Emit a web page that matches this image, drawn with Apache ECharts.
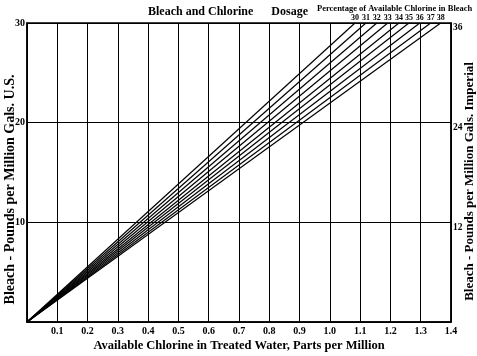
<!DOCTYPE html>
<html><head><meta charset="utf-8">
<script src="https://cdn.jsdelivr.net/npm/echarts@6/dist/echarts.min.js"></script>
<style>html,body{margin:0;padding:0;background:#fff}#c{width:477px;height:356px}</style>
</head><body><div id="c"></div>
<script>
// Percentage of available chlorine in bleach (one line per value)
const percentages = [30, 31, 32, 33, 34, 35, 36, 37, 38];
// Available chlorine (ppm) where each line reaches 30 lbs per million gals U.S.
const endPpm = [1.083, 1.119, 1.155, 1.191, 1.228, 1.261, 1.297, 1.333, 1.366];
const endLbs = 30;
const startPoint = [0, 0];

const FONT = 'Liberation Serif';
const chart = echarts.init(document.getElementById('c'));

const series = percentages.map((p, i) => ({
  type: 'line',
  name: String(p),
  showSymbol: true,
  symbol: 'circle',
  symbolSize: 0,
  silent: true,
  animation: false,
  lineStyle: { color: '#000', width: 1.2 },
  itemStyle: { color: '#000' },
  data: [
    { value: startPoint },
    { value: [endPpm[i], endLbs],
      label: { show: true, position: 'top', distance: 1, formatter: String(p),
               fontFamily: FONT, fontWeight: 'bold', fontSize: 8, color: '#000' } }
  ]
}));

chart.setOption({
  backgroundColor: '#fff',
  animation: false,
  title: [
    { text: 'Bleach and Chlorine      Dosage', left: 143, top: 1,
      textStyle: { fontFamily: FONT, fontWeight: 'bold', fontSize: 12, color: '#000' } },
    { text: 'Percentage of Available Chlorine in Bleach', left: 312, top: -1,
      textStyle: { fontFamily: FONT, fontWeight: 'bold', fontSize: 8.5, color: '#000' } }
  ],
  grid: { left: 27, right: 26, top: 23, bottom: 34, outerBoundsMode: 'none', containLabel: false,
          show: true, borderColor: '#000', borderWidth: 1.5 },
  xAxis: {
    type: 'value', min: 0, max: 1.4, interval: 0.1,
    name: 'Available Chlorine in Treated Water, Parts per Million',
    nameLocation: 'middle', nameGap: 17, nameMoveOverlap: false,
    nameTextStyle: { fontFamily: FONT, fontWeight: 'bold', fontSize: 12.5, color: '#000' },
    axisLine: { show: true, lineStyle: { color: '#000', width: 1.5 } },
    axisTick: { show: false },
    axisLabel: { showMinLabel: false, margin: 4, fontFamily: FONT, fontWeight: 'bold', fontSize: 10, color: '#000',
                 formatter: v => v.toFixed(1) },
    splitLine: { show: true, lineStyle: { color: '#000', width: 1 } }
  },
  yAxis: [
    { type: 'value', min: 0, max: 30, interval: 10, position: 'left',
      name: 'Bleach - Pounds per Million Gals. U.S.',
      nameLocation: 'middle', nameGap: 10, nameMoveOverlap: false,
      nameTextStyle: { fontFamily: FONT, fontWeight: 'bold', fontSize: 14, color: '#000', padding: [0, 34, 0, 0] },
      axisLine: { show: true, lineStyle: { color: '#000', width: 1.5 } },
      axisTick: { show: false },
      axisLabel: { showMinLabel: false, margin: 2, verticalAlign: 'middle', padding: [0, 0, 4, 0], fontFamily: FONT, fontWeight: 'bold', fontSize: 10, color: '#000' },
      splitLine: { show: true, lineStyle: { color: '#000', width: 1 } }
    },
    { type: 'value', min: 0, max: 36, interval: 12, position: 'right',
      name: 'Bleach - Pounds per Million Gals. Imperial',
      nameLocation: 'middle', nameGap: 12, nameRotate: 90, nameMoveOverlap: false,
      nameTextStyle: { fontFamily: FONT, fontWeight: 'bold', fontSize: 13, color: '#000', padding: [0, 18, 0, 0] },
      axisLine: { show: true, lineStyle: { color: '#000', width: 1.5 } },
      axisTick: { show: false },
      axisLabel: { showMinLabel: false, margin: 2, verticalAlign: 'top', fontFamily: FONT, fontWeight: 'bold', fontSize: 9.5, color: '#000' },
      splitLine: { show: false }
    }
  ],
  series: series
});
</script></body></html>
